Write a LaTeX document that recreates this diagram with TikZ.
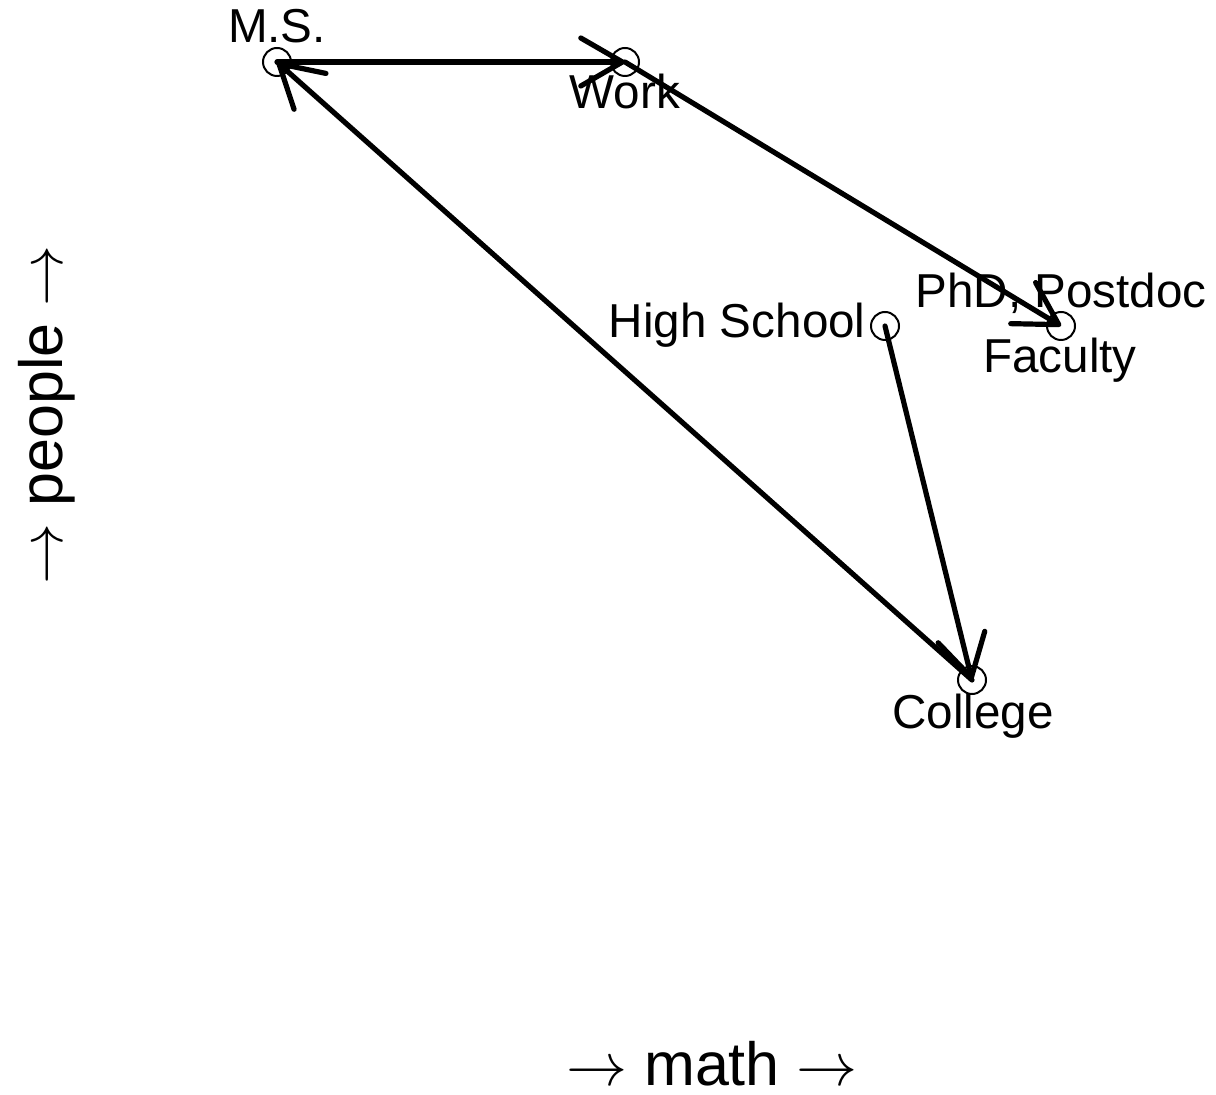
\RequirePackage{fix-cm}
\documentclass[tikz,border=0pt]{standalone}
\usepackage{fontspec}
\setmainfont{Liberation Sans}
\usetikzlibrary{arrows.meta}
\begin{document}
\begin{tikzpicture}[x=0.5pt,y=-0.5pt,
  pt/.style={circle,draw,line width=1pt,minimum size=14pt,inner sep=0pt},
  lbl/.style={font=\fontsize{23.8}{28}\selectfont,inner sep=0pt},
  axl/.style={font=\fontsize{30.5}{36}\selectfont,inner sep=0pt},
  edge/.style={line width=2.6pt,line cap=round,line join=round,
    -{Straight Barb[length=20.8pt,width=24pt,round]}}]
\useasboundingbox (0,0) rectangle (1216,1095);
% points
\node[pt] (ms) at (277,62) {};
\node[pt] (work) at (625,62) {};
\node[pt] (hs) at (885,326) {};
\node[pt] (fac) at (1061,326) {};
\node[pt] (col) at (972,680) {};
% labels
\node[lbl,anchor=base] (lms) at (277,43) {M.S.};
\node[lbl,anchor=base] (lwork) at (625,109) {Work};
\node[lbl,anchor=base east] (lhs) at (866,338) {High School};
\node[lbl,anchor=base] (lphd) at (1061,308) {PhD, Postdoc};
\node[lbl,anchor=base] (lfac) at (1060,373) {Faculty};
\node[lbl,anchor=base] (lcol) at (973,729) {College};
% axis labels
\node[axl,anchor=base] (xlab) at (712,1085) {$\rightarrow$ math $\rightarrow$};
\node[axl,anchor=base,rotate=90] (ylab) at (62,415) {$\rightarrow$ people $\rightarrow$};
% arrows
\draw[edge] (hs.center) -- (col.center);
\draw[edge] (col.center) -- (ms.center);
\draw[edge] (ms.center) -- (work.center);
\draw[edge] (work.center) -- (fac.center);
\end{tikzpicture}
\end{document}
